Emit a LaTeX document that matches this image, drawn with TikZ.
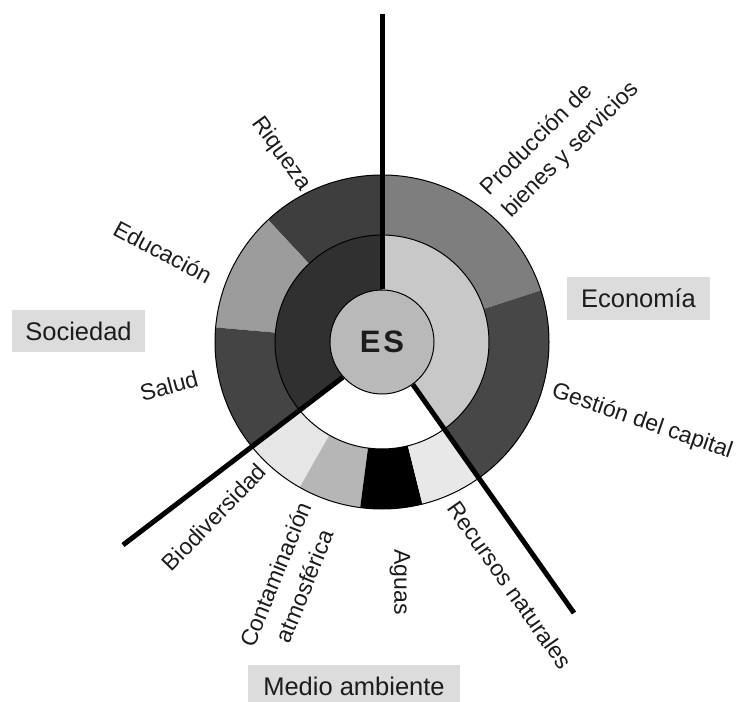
\documentclass[tikz,border=0pt]{standalone}
\usepackage{fontspec}
\setmainfont{Liberation Sans}
\definecolor{riqc}{HTML}{3E3E3E}
\definecolor{educ}{HTML}{9C9C9C}
\definecolor{salc}{HTML}{444444}
\definecolor{socin}{HTML}{303030}
\definecolor{prodc}{HTML}{7E7E7E}
\definecolor{gestc}{HTML}{474747}
\definecolor{ecoin}{HTML}{C8C8C8}
\definecolor{esc}{HTML}{B9B9B9}
\definecolor{biodc}{HTML}{E6E6E6}
\definecolor{contc}{HTML}{B6B6B6}
\definecolor{recc}{HTML}{E8E8E8}
\definecolor{boxc}{HTML}{DCDCDC}
\definecolor{txtc}{HTML}{1C1C1C}
\newcommand{\annsec}[5]{\fill[#1] (#2:#4) arc[start angle=#2,end angle=#3,radius=#4] -- (#3:#5) arc[start angle=#3,end angle=#2,radius=#5] -- cycle;}
\begin{document}
\begin{tikzpicture}[x=1pt,y=1pt,
  lab/.style={font=\fontsize{23}{31}\selectfont, inner sep=0pt, text=txtc},
  boxlab/.style={fill=boxc, font=\fontsize{25.5}{30}\selectfont, inner sep=0pt, text=txtc},
  axisline/.style={line width=5pt, black},
  ringline/.style={line width=1pt, black}
]
\useasboundingbox (-382,-359) rectangle (359,342);
\clip (-382,-359) rectangle (359,342);
% outer ring sectors
\annsec{riqc}{90}{133}{107}{167}
\annsec{educ}{133}{175}{107}{167}
\annsec{salc}{175}{219.5}{107}{167}
\annsec{prodc}{18}{90}{107}{167}
\annsec{gestc}{-54.6}{18}{107}{167}
\annsec{biodc}{219.5}{240.5}{107}{167}
\annsec{contc}{240.5}{262.5}{107}{167}
\annsec{black}{262.5}{284}{107}{167}
\annsec{recc}{284}{305.4}{107}{167}
% inner ring sectors
\annsec{socin}{90}{221}{52}{107}
\annsec{ecoin}{-54.6}{90}{52}{107}
% ring borders
\draw[ringline] (0,0) circle[radius=167];
\draw[ringline] (0,0) circle[radius=107];
% centre
\node[circle, draw=black, line width=1pt, fill=esc, minimum size=104pt, inner sep=0pt,
      font=\fontsize{31}{31}\selectfont\bfseries, text=txtc] (ES) at (0,0) {E\hspace{3pt}S};
% axes
\coordinate (topend) at (0,328);
\coordinate (llend) at (-259,-203);
\coordinate (lrend) at (192,-271);
\draw[axisline] (ES.90) -- (topend);
\draw[axisline] (ES.222.5) -- (llend);
\draw[axisline] (ES.-54) -- (lrend);
% group boxes
\node[boxlab, minimum width=133pt, minimum height=42pt] (soc) at (-303.5,11) {Sociedad};
\node[boxlab, minimum width=143pt, minimum height=43pt] (eco) at (256.5,43.5) {Economía};
\node[boxlab, minimum width=212pt, minimum height=43pt] (med) at (-28,-344.5) {Medio ambiente};
% ring labels
\node[lab, rotate=-54] (riq) at (-101,188) {Riqueza};
\node[lab, rotate=-28] (edu) at (-219,90) {Educación};
\node[lab, rotate=15] (sal) at (-213,-44) {Salud};
\node[lab, rotate=45, align=left] (prod) at (178,203) {Producción de\\bienes y servicios};
\node[lab, rotate=-19] (gest) at (260,-80) {Gestión del capital};
\node[lab, rotate=46] (biod) at (-168,-175) {Biodiversidad};
\node[lab, rotate=68, align=center] (cont) at (-92,-238) {Contaminación\\atmosférica};
\node[lab, rotate=-90] (agu) at (18,-240) {Aguas};
\node[lab, rotate=-55] (rec) at (128,-243) {Recursos naturales};
\end{tikzpicture}
\end{document}
